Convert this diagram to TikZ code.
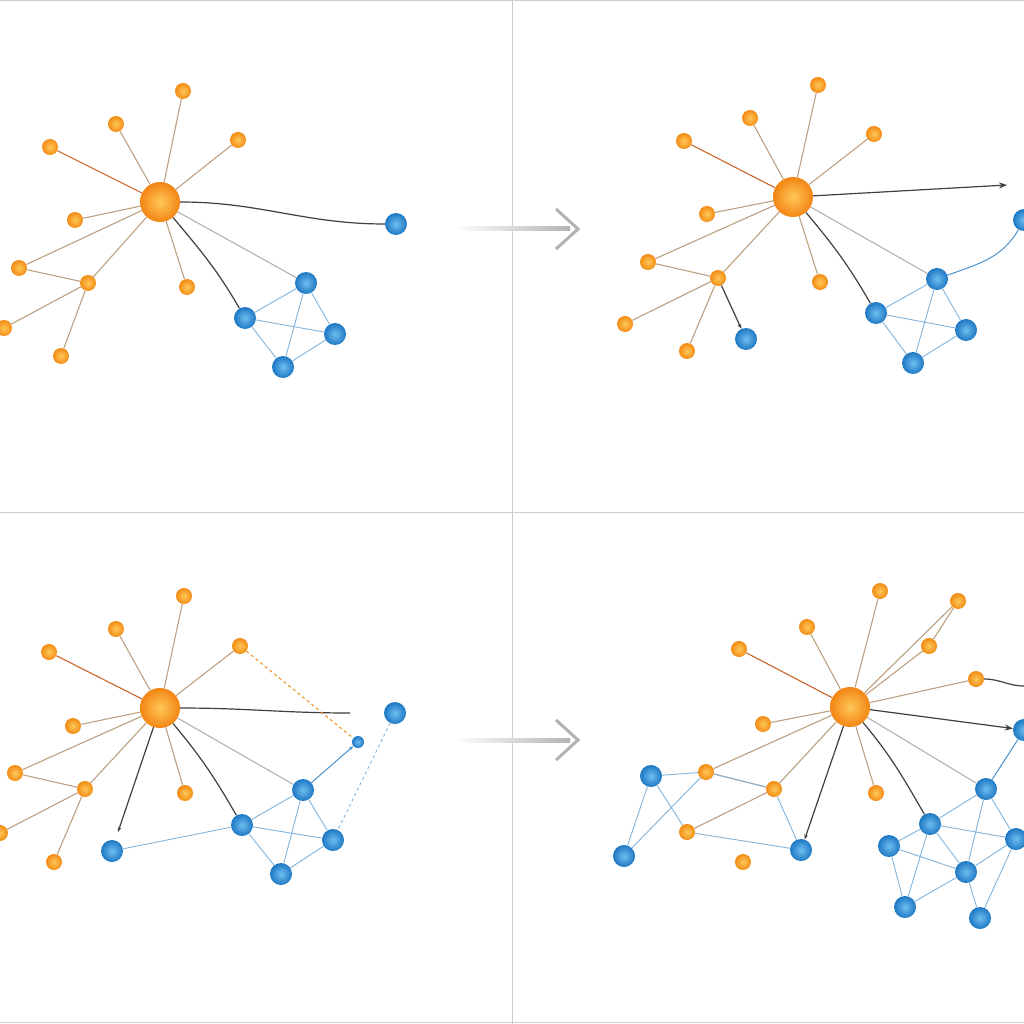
\documentclass[tikz,border=0pt]{standalone}
\usetikzlibrary{arrows.meta}
\definecolor{or}{RGB}{242,140,20}
\definecolor{orl}{RGB}{255,200,90}
\definecolor{bl}{RGB}{30,120,195}
\definecolor{bll}{RGB}{110,190,240}
\begin{document}
\begin{tikzpicture}[x=1pt,y=-1pt,
 hub/.style={circle,minimum size=40pt,inner sep=0,shading=radial,inner color=orl,outer color=or!95!red,draw=none},
 on/.style={circle,minimum size=16pt,inner sep=0,shading=radial,inner color=orl,outer color=or,draw=none},
 bn/.style={circle,minimum size=22pt,inner sep=0,shading=radial,inner color=bll,outer color=bl,draw=none},
 oe/.style={draw={rgb,255:red,190;green,160;blue,130},line width=1.1pt},
 re/.style={draw={rgb,255:red,205;green,100;blue,40},line width=1.1pt},
 ge/.style={draw=gray!60,line width=1.1pt},
 de/.style={draw=black!75,line width=1.2pt},
 be/.style={draw={rgb,255:red,130;green,180;blue,220},line width=0.9pt}]
\useasboundingbox (0,0) rectangle (1024,1024);
\fill[white] (0,0) rectangle (1024,1024);
\draw[gray!40,line width=1pt] (512,0)--(512,1024) (0,512)--(1024,512) (0,1)--(1024,1) (0,1022)--(1024,1022);
% panel arrows
\foreach \y/\n in {229/a,740/b}{
 \coordinate (s\n) at (455,\y); \coordinate (e\n) at (578,\y);
 \shade[left color=white,right color=gray!60] (455,\y-2) rectangle (570,\y+2);
 \draw[gray!60,line width=3pt] (556,\y-20)--(578,\y)--(556,\y+20);}
% ---------- panel 1
\node[hub] (h) at (160,202) {};
\foreach \n/\p in {1/{183,91},2/{116,124},3/{50,147},4/{238,140},5/{75,220},6/{19,268},7/{88,283},8/{187,287},9/{4,328},10/{61,356}}
 \node[on] (o\n) at (\p) {};
\foreach \n/\p in {1/{396,224},2/{306,283},3/{245,318},4/{335,334},5/{283,367}}
 \node[bn] (b\n) at (\p) {};
\foreach \n in {1,2,4,5,6,7,8} \path[oe] (h)--(o\n);
\path[re] (h)--(o3);
\path[oe] (o7)--(o6) (o7)--(o9) (o7)--(o10);
\path[de] (h) to[out=0,in=180] (b1);
\path[de] (h) to[out=-50,in=120] (b3);
\path[ge] (h)--(b2);
\path[be] (b3)--(b2) (b3)--(b5) (b2)--(b4) (b3)--(b4) (b5)--(b4) (b2)--(b5);
% ---------- panel 2
\node[hub] (H) at (793,197) {};
\foreach \n/\p in {1/{818,85},2/{750,118},3/{684,141},4/{874,134},5/{707,214},6/{648,262},7/{718,278},8/{820,282},9/{625,324},10/{687,351}}
 \node[on] (P\n) at (\p) {};
\foreach \n/\p in {0/{746,339},1/{1024,220},2/{937,279},3/{876,313},4/{966,330},5/{913,363}}
 \node[bn] (B\n) at (\p) {};
\coordinate (T1) at (1007,185);
\foreach \n in {1,2,4,5,6,7,8} \path[oe] (H)--(P\n);
\path[re] (H)--(P3);
\path[oe] (P7)--(P6) (P7)--(P9) (P7)--(P10);
\draw[de,-{Stealth[length=8pt]}] (H)--(T1);
\path[de] (H) to[out=-50,in=120] (B3);
\path[ge] (H)--(B2);
\draw[de,-{Stealth[length=5pt]}] (P7)--(B0);
\path[draw=bl!80,line width=1pt] (B2) to[out=20,in=240] (B1);
\path[be] (B3)--(B2) (B3)--(B5) (B2)--(B4) (B3)--(B4) (B5)--(B4) (B2)--(B5);
% ---------- panel 3
\node[hub] (k) at (160,708) {};
\foreach \n/\p in {1/{184,596},2/{116,629},3/{49,652},4/{240,646},5/{73,726},6/{15,773},7/{85,789},8/{185,793},9/{0,833},10/{54,862}}
 \node[on] (q\n) at (\p) {};
\foreach \n/\p in {1/{395,713},2/{303,790},3/{242,825},4/{333,840},5/{281,874},7/{112,851}}
 \node[bn] (c\n) at (\p) {};
\node[bn,minimum size=12pt] (c6) at (358,742) {};
\foreach \n in {1,2,4,5,6,7,8} \path[oe] (k)--(q\n);
\path[re] (k)--(q3);
\path[oe] (q7)--(q6) (q7)--(q9) (q7)--(q10);
\coordinate (m1) at (350,713);
\coordinate (m2) at (118,832);
\path[de] (k) to[out=0,in=180] (m1);
\path[de] (k) to[out=-50,in=120] (c3);
\path[ge] (k)--(c2);
\draw[de,-{Stealth[length=5pt]}] (k)--(m2);
\path[draw=or,line width=1pt,dashed] (q4)--(c6);
\path[be,dashed] (c1)--(c4);
\draw[draw=bl!80,line width=1pt,-{Stealth[length=5pt]}] (c2)--(c6);
\path[be] (c7)--(c3) (c3)--(c2) (c3)--(c5) (c2)--(c4) (c3)--(c4) (c5)--(c4) (c2)--(c5);
% ---------- panel 4
\node[hub] (K) at (850,707) {};
\foreach \n/\p in {1/{880,591},2/{807,627},3/{739,649},4/{958,601},11/{929,646},12/{976,679},5/{763,724},6/{706,772},7/{774,789},8/{876,793},9/{687,832},10/{743,862}}
 \node[on] (Q\n) at (\p) {};
\foreach \n/\p in {1/{651,776},2/{624,856},3/{801,850},4/{889,846},5/{930,824},6/{986,789},7/{1016,839},8/{966,872},9/{905,907},10/{980,918},11/{1024,730}}
 \node[bn] (C\n) at (\p) {};
\coordinate (m3) at (1024,686);
\foreach \n in {1,2,4,5,6,7,8,11,12} \path[oe] (K)--(Q\n);
\path[re] (K)--(Q3);
\path[oe] (Q11)--(Q4) (Q7)--(Q6) (Q7)--(Q9);
\draw[de,-{Stealth[length=8pt]}] (K)--(C11);
\path[de] (Q12) to[out=0,in=180] (m3);
\path[de] (K) to[out=-50,in=120] (C5);
\draw[de,-{Stealth[length=5pt]}] (K)--(C3);
\path[ge] (K)--(C6);
\path[draw=bl!80,line width=1pt] (C6)--(C11);
\path[be] (C1)--(C2) (C1)--(Q6) (C1)--(Q9) (C2)--(Q6) (Q6)--(Q7) (Q7)--(C3) (Q9)--(C3)
 (C4)--(C5) (C5)--(C6) (C6)--(C7) (C5)--(C8) (C4)--(C9) (C8)--(C9) (C8)--(C10) (C7)--(C8) (C5)--(C9) (C6)--(C8) (C4)--(C8) (C7)--(C10) (C5)--(C7);
\end{tikzpicture}
\end{document}
